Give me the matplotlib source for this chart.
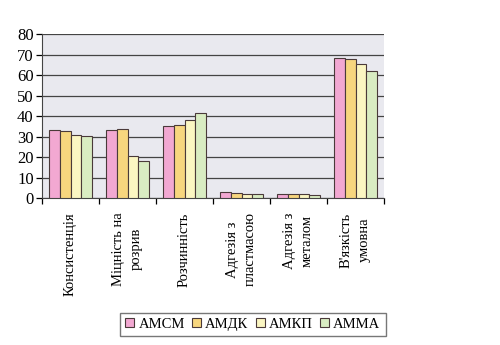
import matplotlib
matplotlib.use('Agg')
import matplotlib.pyplot as plt
import numpy as np

# ======== Data ========
categories = ['Консистенція', 'Міцність на\nрозрив', 'Розчинність',
              'Адгезія з\nпластмасою', 'Адгезія з\nметалом', "В'язкість\nумовна"]
amcm = [33.1, 33.1, 35.4, 3.0, 2.2, 68.3]
amdk = [32.6, 33.6, 35.7, 2.4, 2.2, 67.7]
amkp = [31.0, 20.3, 38.0, 2.1, 2.2, 65.4]
amma = [30.5, 18.2, 41.6, 2.0, 1.7, 61.9]
series_names = ['АМСМ', 'АМДК', 'АМКП', 'АММА']

# ======== Style ========
plt.rcParams.update({
    'font.family': ['Liberation Serif', 'DejaVu Serif'],
    'font.size': 10.5,
})
colors = ['#f2a8d2', '#f7d67e', '#fbf6c2', '#d9ecc2']

fig = plt.figure(figsize=(5.0, 3.45), dpi=100)
ax = fig.add_axes([0.084, 0.426, 0.684, 0.475])
ax.set_facecolor('#e9e9ef')

x = np.arange(len(categories))
w = 0.1875
for i, (vals, c, name) in enumerate(zip([amcm, amdk, amkp, amma], colors, series_names)):
    ax.bar(x + (i - 1.5) * w, vals, width=w, color=c, edgecolor='#4a3a3a',
           linewidth=0.8, label=name, zorder=3)

ax.set_xlim(-0.5, len(categories) - 0.5)
ax.set_ylim(0, 80)
ax.set_yticks(range(0, 81, 10))
ax.yaxis.grid(True, color='#444444', lw=0.9, zorder=1)
ax.tick_params(axis='y', length=4, width=0.9, pad=2, direction='out', labelsize=12)

# category ticks between groups, labels centred under each group
ax.set_xticks(np.arange(-0.5, len(categories), 1.0))
ax.set_xticklabels([])
ax.tick_params(axis='x', length=4, width=0.9, direction='out')
for xi, lab in zip(x, categories):
    ax.text(xi, -7, lab, rotation=90, ha='center', va='top',
            multialignment='center', fontsize=10.5, linespacing=1.5)

for s in ['top', 'right']:
    ax.spines[s].set_visible(False)
ax.spines['left'].set_color('#444444')
ax.spines['bottom'].set_color('#444444')

fig.legend(loc='center', bbox_to_anchor=(0.506, 0.06), ncol=4, frameon=True,
           fancybox=False, edgecolor='#555555', handlelength=0.6, handleheight=0.6,
           handletextpad=0.3, columnspacing=0.5, fontsize=10.5, borderpad=0.35)

fig.savefig('out.png', dpi=100)
